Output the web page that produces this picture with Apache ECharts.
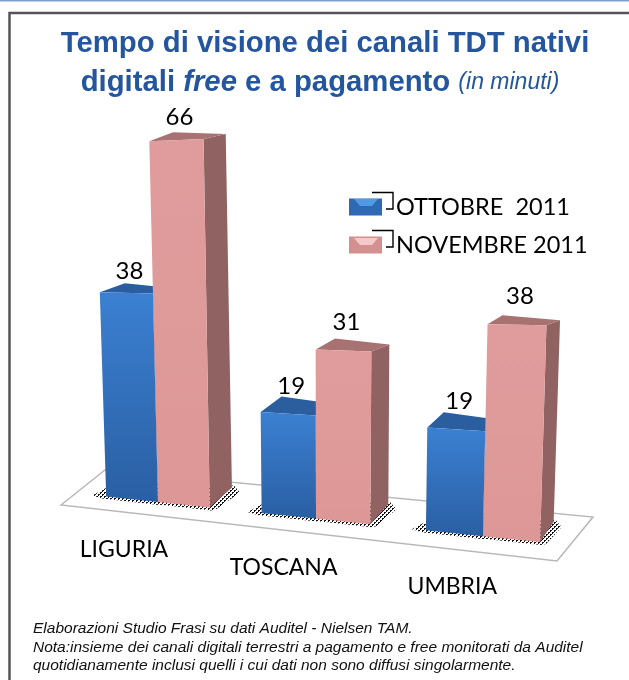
<!DOCTYPE html>
<html><head><meta charset="utf-8">
<style>html,body{margin:0;padding:0;background:#fff}#c{width:629px;height:680px}</style>
<script src="https://cdn.jsdelivr.net/npm/echarts@6/dist/echarts.min.js"></script>
</head><body><div id="c"></div>
<script>
const categories = ['LIGURIA', 'TOSCANA', 'UMBRIA'];
const ottobre = [38, 19, 19];
const novembre = [66, 31, 38];
const seriesNames = ['OTTOBRE  2011', 'NOVEMBRE 2011'];

const AXIS_MIN = 1, AXIS_MAX = 66;
const SLOPE = 0.105, VANISH_X = 330, LEAN = 0.00014;
const FONT_LABEL = 'Lato';
const FONT_TEXT = '"Liberation Sans"';

const stipple = document.createElement('canvas');
stipple.width = stipple.height = 4;
const sc = stipple.getContext('2d');
sc.fillStyle = '#111';
[[0, 0], [1, 0], [0, 1], [2, 2], [3, 2], [2, 3]].forEach(d => sc.fillRect(d[0], d[1], 1, 1));

function geometry(api, slot) {
  const i = api.value(0), v = api.value(1);
  const p = api.coord([i, AXIS_MIN]);
  const top = api.coord([i, v]);
  const band = api.size([1, 0])[0];
  const mid = api.coord([1, AXIS_MIN])[0];
  const first = api.coord([0, AXIS_MIN]);
  const t = (p[0] - mid) / band;
  const c = p[0] - 4.5 * (1 - t * t);
  const w = band * 0.335 * (1 + 0.0003 * (c - mid));
  const xl = c + (slot - 1) * w, xr = c + slot * w, xc = (xl + xr) / 2;
  const floor = x => first[1] + SLOPE * (x - first[0]);
  const hc = (p[1] - top[1]) * (1 + 0.0001 * (xc - 250));
  const h = x => hc * (1 + 0.0004 * (x - xc));
  const tx = (x, hh) => x + (x - VANISH_X) * LEAN * hh;
  const depth = x => 25 - 0.026 * (x - 100);
  const dyTop = Math.max(7, 20 - 0.065 * hc);
  return {i, v, c, xl, xr, xc, floor, h, tx, depth, dyTop, hc};
}

const palette = [
  {front: ['#3b80d2', '#2a5fa3'], top: '#2b5e9f', side: '#244f86'},
  {front: ['#e09c9c', '#dd9797'], top: '#a97272', side: '#906262'}
];

function barRender(slot) {
  return function (params, api) {
    const g = geometry(api, slot), col = palette[slot];
    const hl = g.h(g.xl), hr = g.h(g.xr);
    const tlx = g.tx(g.xl, hl), trx = g.tx(g.xr, hr);
    const tly = g.floor(g.xl) - hl, try_ = g.floor(g.xr) - hr;
    const dr = g.depth(g.xr);
    const side = [[trx, try_], [trx + dr, try_ - g.dyTop + 2], [g.xr + dr, g.floor(g.xr) - 20], [g.xr, g.floor(g.xr)]];
    const topFace = [[tlx, tly], [tlx + g.depth(tlx), tly - g.dyTop - 2], [trx + dr, try_ - g.dyTop + 2], [trx, try_]];
    const front = [[tlx, tly], [trx, try_], [g.xr, g.floor(g.xr)], [g.xl, g.floor(g.xl)]];
    const lx = (tlx + trx) / 2;
    const children = [
      {type: 'polygon', shape: {points: side}, style: {fill: col.side}},
      {type: 'polygon', shape: {points: topFace}, style: {fill: col.top}},
      {type: 'polygon', shape: {points: front}, style: {
        fill: new echarts.graphic.LinearGradient(0, 0, 0, 1, [
          {offset: 0, color: col.front[0]}, {offset: 1, color: col.front[1]}])}},
      {type: 'text', style: {
        text: String(g.v), x: lx + 3, y: (tly + try_) / 2 - 28.5 + Math.max(0, (VANISH_X - lx) * 0.035),
        fill: '#000', font: '24px ' + FONT_LABEL, align: 'center', verticalAlign: 'middle'}}
    ];
    return {type: 'group', children};
  };
}

function shadowRender(slot) {
  return function (params, api) {
    const g = geometry(api, slot);
    const dr = g.depth(g.xr);
    const points = [
      [g.xl - 14, g.floor(g.xl) - 1],
      [g.xl - 4, g.floor(g.xl) + 2],
      [g.xr + 1, g.floor(g.xr) + 3],
      [g.xr + 6, g.floor(g.xr) + 2],
      [g.xr + dr + 8, g.floor(g.xr) - 15],
      [g.xr + dr + 2, g.floor(g.xr) - 22],
      [g.xl + 10, g.floor(g.xl) - 14]
    ];
    return {type: 'polygon', shape: {points},
      style: {fill: {image: stipple, repeat: 'repeat'}}};
  };
}

function categoryLabelRender(params, api) {
  const g = geometry(api, 0);
  const x = g.c - 34 + (g.c - 158) * 0.01;
  return {type: 'text', style: {
    text: categories[g.i], x, y: g.floor(x) + 51 + (x - 123) * 0.0095,
    fill: '#000', font: '23px ' + FONT_LABEL, align: 'center', verticalAlign: 'middle'}};
}

const rows = a => a.map((v, i) => [i, v]);
const customBase = {type: 'custom', coordinateSystem: 'cartesian2d', clip: false, silent: true};

const chart = echarts.init(document.getElementById('c'), null, {renderer: 'canvas'});
chart.setOption({
  animation: false,
  backgroundColor: '#fff',
  title: [
    {text: 'Tempo di visione dei canali TDT nativi', left: 325, top: 29, padding: 0, textAlign: 'center',
     textStyle: {fontFamily: FONT_TEXT, fontSize: 29.3, fontWeight: 'bold', color: '#24559f'}},
    {text: '{b|digitali }{bi|free}{b| e a pagamento }{s|(in minuti)}', left: 320, top: 68, padding: 0, textAlign: 'center',
     textStyle: {rich: {
       b: {fontFamily: FONT_TEXT, fontSize: 29.3, fontWeight: 'bold', color: '#24559f'},
       bi: {fontFamily: FONT_TEXT, fontSize: 29.3, fontWeight: 'bold', fontStyle: 'italic', color: '#24559f'},
       s: {fontFamily: FONT_TEXT, fontSize: 23, fontWeight: 'normal', fontStyle: 'italic', color: '#24559f'}}}},
    {text: 'Elaborazioni Studio Frasi su dati Auditel - Nielsen TAM.\nNota:insieme dei canali digitali terrestri a pagamento e free monitorati da Auditel\nquotidianamente inclusi quelli i cui dati non sono diffusi singolarmente.',
     left: 33, top: 619.5, padding: 0,
     textStyle: {fontFamily: FONT_TEXT, fontSize: 15.5, fontStyle: 'italic', fontWeight: 'normal', color: '#111', lineHeight: 18.5}}
  ],
  grid: {left: 76.75, width: 487.5, top: 135, height: 367},
  xAxis: {type: 'category', data: categories, show: false},
  yAxis: {type: 'value', min: AXIS_MIN, max: AXIS_MAX, show: false, splitLine: {show: false}},
  legend: {
    orient: 'vertical', left: 349, top: 195, padding: 0, itemWidth: 33, itemHeight: 17, itemGap: 14, selectedMode: false,
    data: [
      {name: seriesNames[0], icon: 'rect', itemStyle: {color: '#2f69b3'}},
      {name: seriesNames[1], icon: 'rect', itemStyle: {color: '#d49090'}}
    ],
    textStyle: {fontFamily: FONT_LABEL, fontSize: 23.5, color: '#000', padding: [0, 0, 0, 9]}
  },
  graphic: [
    {type: 'rect', z: 0, shape: {x: 0, y: 0, width: 629, height: 1.5}, style: {fill: '#7f9fd0'}},
    {type: 'polyline', z: 0, shape: {points: [[9.5, 680], [9.5, 13], [629, 13]]}, style: {fill: 'none', stroke: '#555', lineWidth: 2.5}},
    {type: 'polygon', z: 0, shape: {points: [[61, 505], [105, 470], [593, 517], [557, 561]]},
     style: {fill: '#fff', stroke: '#b8b8b8', lineWidth: 1.5}},
    {type: 'polyline', z: 10, shape: {points: [[372, 192.5], [393, 192.5], [393, 209], [386, 209]]}, style: {fill: 'none', stroke: '#000', lineWidth: 1.4}},
    {type: 'polyline', z: 10, shape: {points: [[372, 230.5], [393, 230.5], [393, 247], [386, 247]]}, style: {fill: 'none', stroke: '#000', lineWidth: 1.4}},
    {type: 'polygon', z: 10, shape: {points: [[354, 199], [378, 199], [372, 206], [360, 206]]}, style: {fill: '#4f9ae4'}},
    {type: 'polygon', z: 10, shape: {points: [[354, 238], [378, 238], [372, 245], [360, 245]]}, style: {fill: '#f3c9c9'}}
  ],
  series: [
    {...customBase, name: 'ombra1', z: 1, data: rows(ottobre), renderItem: shadowRender(0)},
    {...customBase, name: 'ombra2', z: 1, data: rows(novembre), renderItem: shadowRender(1)},
    {...customBase, name: seriesNames[0], z: 2, data: rows(ottobre), renderItem: barRender(0), itemStyle: {color: '#2f69b3'}},
    {...customBase, name: seriesNames[1], z: 3, data: rows(novembre), renderItem: barRender(1), itemStyle: {color: '#d49090'}},
    {...customBase, name: 'categorie', z: 3, data: rows(ottobre), renderItem: categoryLabelRender}
  ]
});
</script></body></html>
